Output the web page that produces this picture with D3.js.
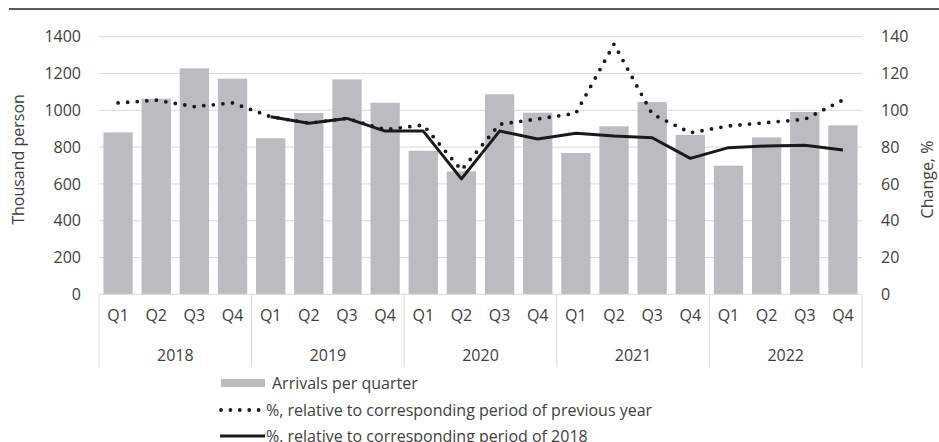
<!DOCTYPE html>
<html>
<head>
<meta charset="utf-8">
<script src="https://cdn.jsdelivr.net/npm/d3@7"></script>
<style>
  body { margin: 0; background: #fff; }
  svg text { font-family: "Open Sans", sans-serif; fill: #404040; }
</style>
</head>
<body>
<div id="container"></div>
<script>
// data
const years = ["2018", "2019", "2020", "2021", "2022"]
const quarters = ["Q1", "Q2", "Q3", "Q4"]
const arrivals = [880, 1063, 1228, 1172, 848, 985, 1168, 1041, 780, 668, 1087, 987, 768, 913, 1045, 866, 699, 853, 991, 918]
const prevYearPct = [104, 105.5, 102, 104, 96.5, 93, 95.6, 89.5, 92, 67.5, 92.4, 95.3, 98.4, 136, 98, 87.8, 91.5, 93.3, 95.1, 105.6]
const vs2018Pct = [null, null, null, null, 96.5, 93, 95.6, 88.7, 88.7, 62.7, 88.7, 84.4, 87.5, 86, 85.1, 73.9, 79.7, 80.6, 81, 78.4]
const leftTicks = [0, 200, 400, 600, 800, 1000, 1200, 1400]
const rightTicks = [0, 20, 40, 60, 80, 100, 120, 140]
const legendLabels = ["Arrivals per quarter", "%, relative to corresponding period of previous year", "%, relative to corresponding period of 2018"]

const W = 939, H = 442
const margin = { left: 99, right: 77, top: 36.7, bottom: 147.7 }
const width = W - margin.left - margin.right
const height = H - margin.top - margin.bottom

const svg = d3.select("#container").append("svg")
  .attr("width", W).attr("height", H)

// top rule
svg.append("line")
  .attr("x1", 9).attr("x2", W).attr("y1", 9).attr("y2", 9)
  .attr("stroke", "#595959").attr("stroke-width", 2)

const g = svg.append("g").attr("transform", `translate(${margin.left},${margin.top})`)

// flatten categories
const cats = []
years.forEach(y => quarters.forEach(q => cats.push(y + " " + q)))

const x = d3.scaleBand().domain(cats).range([0, width]).paddingInner(0.232).paddingOuter(0.116)
const xc = d => x(d) + x.bandwidth() / 2
const yL = d3.scaleLinear().domain([0, 1400]).range([height, 0])
const yR = d3.scaleLinear().domain([0, 140]).range([height, 0])

// gridlines
g.selectAll(".grid").data(leftTicks.filter(t => t > 0)).enter().append("line")
  .attr("x1", 0).attr("x2", width)
  .attr("y1", d => yL(d)).attr("y2", d => yL(d))
  .attr("stroke", "#d9d9d9").attr("stroke-width", 1)

// bars
g.selectAll(".bar").data(arrivals).enter().append("rect")
  .attr("x", (d, i) => x(cats[i]))
  .attr("y", d => yL(d))
  .attr("width", x.bandwidth())
  .attr("height", d => height - yL(d))
  .attr("fill", "#bbbcc0")

// left axis
const leftAxis = g.append("g")
  .call(d3.axisLeft(yL).tickValues(leftTicks).tickFormat(d3.format("d")).tickSize(0).tickPadding(18))
leftAxis.select(".domain").remove()
leftAxis.selectAll("text").style("font-size", "16px").attr("fill", "#404040")

// right axis
const rightAxis = g.append("g").attr("transform", `translate(${width},0)`)
  .call(d3.axisRight(yR).tickValues(rightTicks).tickFormat(d3.format("d")).tickSize(0).tickPadding(19))
rightAxis.select(".domain").remove()
rightAxis.selectAll("text").style("font-size", "16px").attr("fill", "#404040")

// category axis
g.append("line").attr("x1", 0).attr("x2", width).attr("y1", height).attr("y2", height)
  .attr("stroke", "#d9d9d9")
const step = x.step()
g.selectAll(".sep").data(d3.range(years.length + 1)).enter().append("line")
  .attr("x1", i => i * 4 * step).attr("x2", i => i * 4 * step)
  .attr("y1", height).attr("y2", height + 73)
  .attr("stroke", "#d9d9d9")
g.selectAll(".qlab").data(cats).enter().append("text")
  .attr("x", d => xc(d)).attr("y", height + 27)
  .attr("text-anchor", "middle").style("font-size", "16px")
  .text(d => d.split(" ")[1])
g.selectAll(".ylab").data(years).enter().append("text")
  .attr("x", (d, i) => (i * 4 + 2) * step).attr("y", height + 67)
  .attr("text-anchor", "middle").style("font-size", "16px")
  .text(d => d)

// axis titles
svg.append("text")
  .attr("transform", `translate(24,${margin.top + height / 2 - 6}) rotate(-90)`)
  .attr("text-anchor", "middle").style("font-size", "16px")
  .text("Thousand person")
svg.append("text")
  .attr("transform", `translate(933,${margin.top + height / 2 + 14}) rotate(-90)`)
  .attr("text-anchor", "middle").style("font-size", "16px")
  .text("Change, %")

// lines
const lineR = d3.line()
  .defined(d => d.v !== null)
  .x(d => xc(d.c))
  .y(d => yR(d.v))

g.append("path")
  .datum(prevYearPct.map((v, i) => ({ c: cats[i], v })))
  .attr("fill", "none").attr("stroke", "#1a1a1a")
  .attr("stroke-width", 3.8).attr("stroke-linecap", "round")
  .attr("stroke-dasharray", "0,9.6")
  .attr("d", lineR)

g.append("path")
  .datum(vs2018Pct.map((v, i) => ({ c: cats[i], v })))
  .attr("fill", "none").attr("stroke", "#1a1a1a")
  .attr("stroke-width", 3).attr("stroke-linejoin", "round")
  .attr("d", lineR)

// legend
const lg = svg.append("g")
lg.append("rect").attr("x", 221).attr("y", 379).attr("width", 44).attr("height", 8).attr("fill", "#bbbcc0")
lg.append("line").attr("x1", 221).attr("x2", 260).attr("y1", 410).attr("y2", 410)
  .attr("stroke", "#1a1a1a").attr("stroke-width", 3.8).attr("stroke-linecap", "round")
  .attr("stroke-dasharray", "0,9.4")
lg.append("line").attr("x1", 220).attr("x2", 265).attr("y1", 436).attr("y2", 436)
  .attr("stroke", "#1a1a1a").attr("stroke-width", 3)
lg.selectAll(".lt").data(legendLabels).enter().append("text")
  .attr("x", (d, i) => i === 0 ? 272 : 266)
  .attr("y", (d, i) => 389 + i * 26.5)
  .style("font-size", "16px")
  .text(d => d)
</script>
</body>
</html>
